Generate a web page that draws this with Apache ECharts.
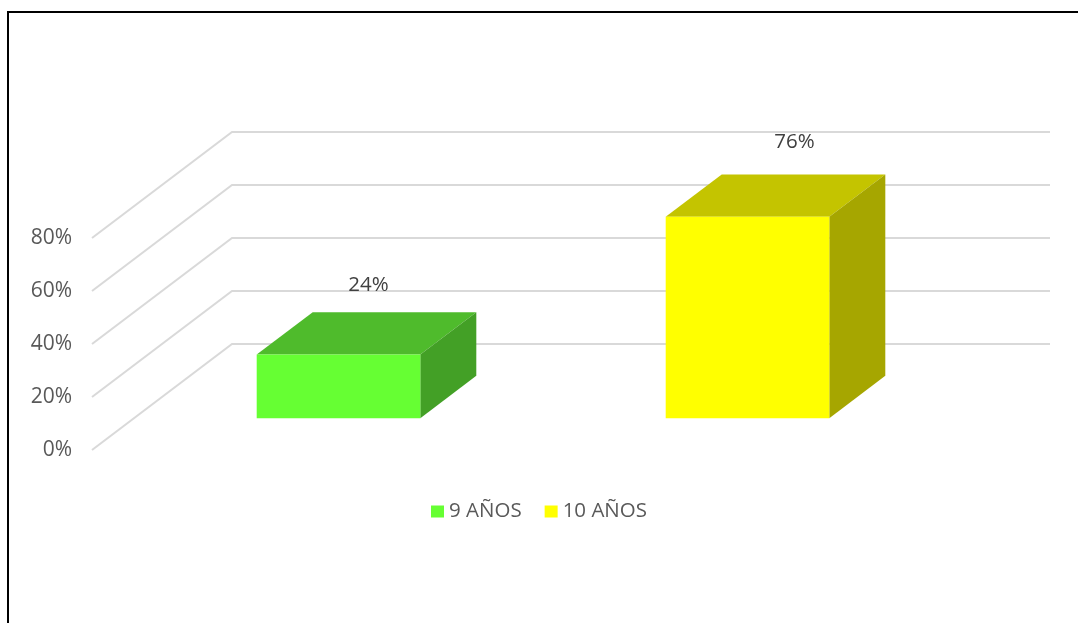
<!DOCTYPE html>
<html>
<head>
<meta charset="utf-8">
<script src="https://cdn.jsdelivr.net/npm/echarts@6/dist/echarts.min.js"></script>
<style>
  html, body { margin: 0; padding: 0; background: #fff; }
  #chart { width: 1078px; height: 623px; }
</style>
</head>
<body>
<div id="chart"></div>
<script>
// Share of pupils by age
const categories = ['9 AÑOS', '10 AÑOS'];
const seriesNames = ['9 AÑOS', '10 AÑOS'];
const seriesValues = [24, 76];
const yTicks = [0, 20, 40, 60, 80];

// 3D look: wall depth and bar depth placement (fractions of the wall depth)
const WALL_DX = 140, WALL_DY = -106;
const BAR_FRONT = 0.3, BAR_BACK = 0.7;
const BAR_WIDTH = 0.4; // share of the category band

const faceColors = [
  { front: '#66FF33', top: '#4FBB2C', side: '#43A026' },
  { front: '#FFFF00', top: '#C4C400', side: '#A6A600' }
];
const labelOffsets = [[30, -69], [47, -75]];
const FONT = '"Open Sans", "Noto Sans", sans-serif';

const chart = echarts.init(document.getElementById('chart'), null, { renderer: 'canvas' });

function wallLines(params, api) {
  const cs = params.coordSys;
  const y = api.coord([0, api.value(1)])[1];
  const x0 = cs.x;
  const x1 = cs.x + WALL_DX;
  const x2 = cs.x + cs.width + WALL_DX;
  return {
    type: 'polyline',
    shape: { points: [[x0, y], [x1, y + WALL_DY], [x2, y + WALL_DY]] },
    style: { stroke: '#D9D9D9', lineWidth: 2, fill: null }
  };
}

function bar3d(params, api) {
  const si = params.seriesIndex - 1;
  const colors = faceColors[si];
  const cat = api.value(0);
  const val = api.value(1);
  const base = api.coord([cat, 0]);
  const top = api.coord([cat, val]);
  const w = api.size([1, 0])[0] * BAR_WIDTH;
  const fx = BAR_FRONT * WALL_DX, fy = BAR_FRONT * WALL_DY;
  const ddx = (BAR_BACK - BAR_FRONT) * WALL_DX, ddy = (BAR_BACK - BAR_FRONT) * WALL_DY;
  const l = base[0] - w / 2 + fx, r = base[0] + w / 2 + fx;
  const b = base[1] + fy, t = top[1] + fy;
  const off = labelOffsets[si];
  return {
    type: 'group',
    children: [
      { type: 'polygon', shape: { points: [[l, t], [r, t], [r + ddx, t + ddy], [l + ddx, t + ddy]] },
        style: { fill: colors.top } },
      { type: 'polygon', shape: { points: [[r, t], [r + ddx, t + ddy], [r + ddx, b + ddy], [r, b]] },
        style: { fill: colors.side } },
      { type: 'rect', shape: { x: l, y: t, width: r - l, height: b - t },
        style: { fill: colors.front } },
      { type: 'text', x: base[0] + fx + off[0], y: t + off[1],
        style: { text: val + '%', fill: '#404040', font: '20.5px ' + FONT,
                 align: 'center', verticalAlign: 'middle' } }
    ]
  };
}

const series = [{
  type: 'custom',
  name: 'walls',
  silent: true,
  z: 1,
  renderItem: wallLines,
  data: yTicks.map(v => [0, v])
}];
seriesNames.forEach((name, i) => {
  series.push({
    type: 'custom',
    name: name,
    silent: true,
    z: 3,
    itemStyle: { color: faceColors[i].front },
    renderItem: bar3d,
    data: [[i, seriesValues[i]]]
  });
});

chart.setOption({
  animation: false,
  backgroundColor: '#fff',
  graphic: [{
    type: 'rect',
    shape: { x: 8, y: 12, width: 1200, height: 800 },
    style: { fill: null, stroke: '#000', lineWidth: 2 },
    silent: true
  }],
  grid: { left: 92, right: 168, top: 238, bottom: 173 },
  xAxis: {
    type: 'category',
    data: categories,
    show: false
  },
  yAxis: {
    type: 'value',
    min: 0,
    max: 80,
    interval: 20,
    axisLine: { show: false },
    axisTick: { show: false },
    splitLine: { show: false },
    axisLabel: {
      margin: 20,
      formatter: '{value}%',
      color: '#595959',
      fontFamily: FONT,
      fontSize: 21,
      padding: [7, 0, 0, 0]
    }
  },
  legend: {
    left: 'center',
    top: 496,
    itemWidth: 13,
    itemHeight: 12,
    itemGap: 23,
    selectedMode: false,
    textStyle: { color: '#595959', fontFamily: FONT, fontSize: 20.5 },
    data: seriesNames.map((n, i) => ({ name: n, icon: 'rect', itemStyle: { color: faceColors[i].front } }))
  },
  series: series
});
</script>
</body>
</html>
